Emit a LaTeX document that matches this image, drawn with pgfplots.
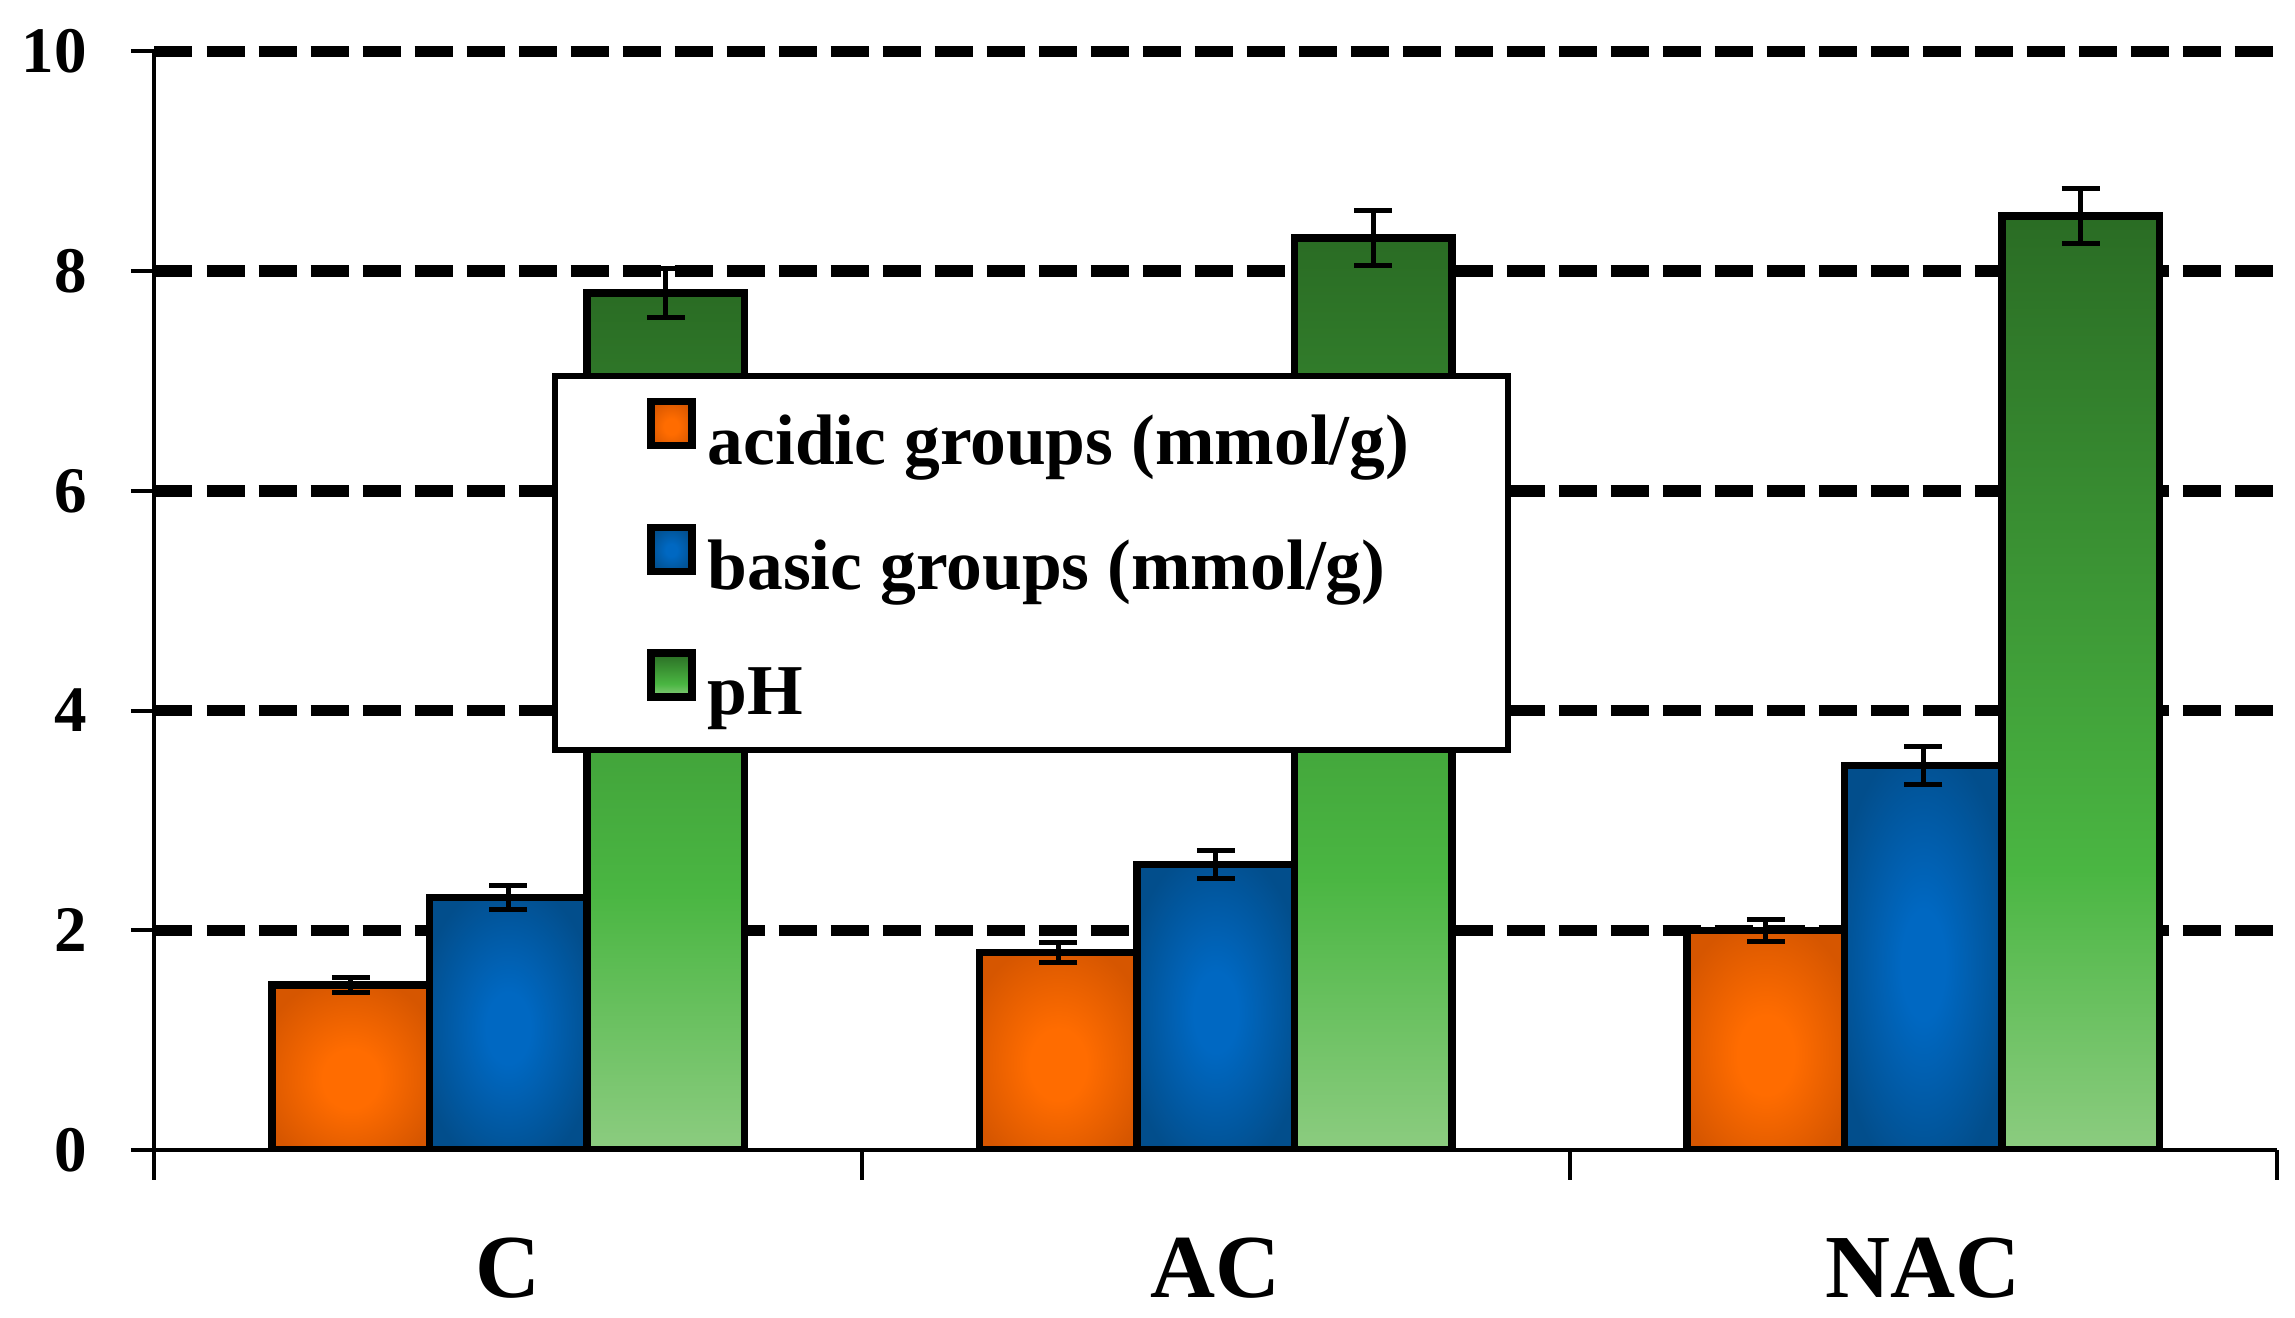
\documentclass[border=0pt]{standalone}
\usepackage{fontspec}
\setmainfont{Liberation Serif}
\usepackage{pgfplots}
\pgfplotsset{compat=1.18}

\definecolor{orIn}{RGB}{255,108,0}
\definecolor{orOut}{RGB}{214,86,0}
\definecolor{blIn}{RGB}{0,104,194}
\definecolor{blOut}{RGB}{2,78,140}
\definecolor{grTop}{RGB}{42,108,36}
\definecolor{grMid}{RGB}{74,182,66}
\definecolor{grBot}{RGB}{140,204,128}
\pgfdeclareverticalshading{phbar}{100bp}{color(0bp)=(grBot); color(25bp)=(grBot); color(40bp)=(grMid); color(75bp)=(grTop); color(100bp)=(grTop)}
\pgfdeclareradialshading{orbar}{\pgfpoint{0bp}{-4bp}}{color(0bp)=(orIn); color(9bp)=(orIn); color(30bp)=(orOut); color(60bp)=(orOut)}
\pgfdeclareradialshading{blbar}{\pgfpoint{0bp}{-1bp}}{color(0bp)=(blIn); color(7bp)=(blIn); color(29bp)=(blOut); color(60bp)=(blOut)}

% one \addplot per bar, so each bar gets its own shading
\pgfplotsset{
  errs/.style={/pgfplots/error bars/y dir=both, /pgfplots/error bars/y explicit,
    /pgfplots/error bars/error bar style={black, line width=1pt},
    /pgfplots/error bars/error mark options={rotate=90, black, mark size=3.8pt, line width=1pt}},
  acid/.style={draw=black, line width=1.5pt, shade, shading=orbar, bar shift=-0.2225, errs},
  basic/.style={draw=black, line width=1.5pt, shade, shading=blbar, bar shift=0, errs},
  ph/.style={draw=black, line width=1.5pt, shade, shading=phbar, bar shift=0.2225, errs},
}

\begin{document}
\begin{tikzpicture}
\begin{axis}[
  name=ax,
  scale only axis,
  width=424.5pt, height=219.7pt,
  xmin=0.5, xmax=3.5, ymin=0, ymax=10,
  axis x line=bottom, axis y line=left,
  axis line style={-, line width=0.8pt},
  ybar, bar width=0.2225,
  xtick={1,2,3}, xticklabels={C,AC,NAC},
  minor xtick={0.5,1.5,2.5,3.5},
  ytick={2,4,6,8,10},
  extra y ticks={0}, extra y tick style={grid=none},
  ymajorgrids,
  major grid style={black, line width=2.3pt, dash pattern=on 7.6pt off 2.8pt},
  tick align=outside,
  major tick length=4.7pt, minor tick length=6pt,
  tick style={black, line width=0.8pt},
  every major x tick/.append style={draw=none},
  /pgf/number format/assume math mode=true,
  xticklabel style={font=\fontsize{18}{19}\selectfont\bfseries, yshift=-9.3pt},
  yticklabel style={font=\fontsize{13}{14}\selectfont\bfseries, xshift=-5.3pt},
  legend style={at={(axis cs:1.062,7.07)}, anchor=north west, draw=black,
    line width=1.2pt, fill=white, inner xsep=18.4pt, inner ysep=4.3pt, row sep=9pt,
    font=\fontsize{14.3}{15}\selectfont\bfseries, nodes={inner sep=1.4pt}},
  legend cell align=left,
  legend image code/.code={\draw[#1,/tikz/.cd,line width=1.5pt] (0.7pt,-0.5pt) rectangle (8.9pt,8.3pt);},
]
\addplot[acid] coordinates {(1,1.5) +- (0,0.07)};
\addplot[forget plot, acid] coordinates {(2,1.8) +- (0,0.09)};
\addplot[forget plot, acid] coordinates {(3,2.0) +- (0,0.10)};
\addplot[basic] coordinates {(1,2.3) +- (0,0.11)};
\addplot[forget plot, basic] coordinates {(2,2.6) +- (0,0.13)};
\addplot[forget plot, basic] coordinates {(3,3.5) +- (0,0.17)};
\addplot[ph] coordinates {(1,7.8) +- (0,0.22)};
\addplot[forget plot, ph] coordinates {(2,8.3) +- (0,0.25)};
\addplot[forget plot, ph] coordinates {(3,8.5) +- (0,0.25)};
\legend{\hspace{1pt}acidic groups (mmol/g), \hspace{1pt}basic groups (mmol/g), \hspace{1pt}pH}
\end{axis}
\pgfresetboundingbox
\path[use as bounding box] ([shift={(-30.9pt,-33.6pt)}]ax.south west) rectangle ([shift={(3.6pt,10.3pt)}]ax.north east);
\end{tikzpicture}
\end{document}
